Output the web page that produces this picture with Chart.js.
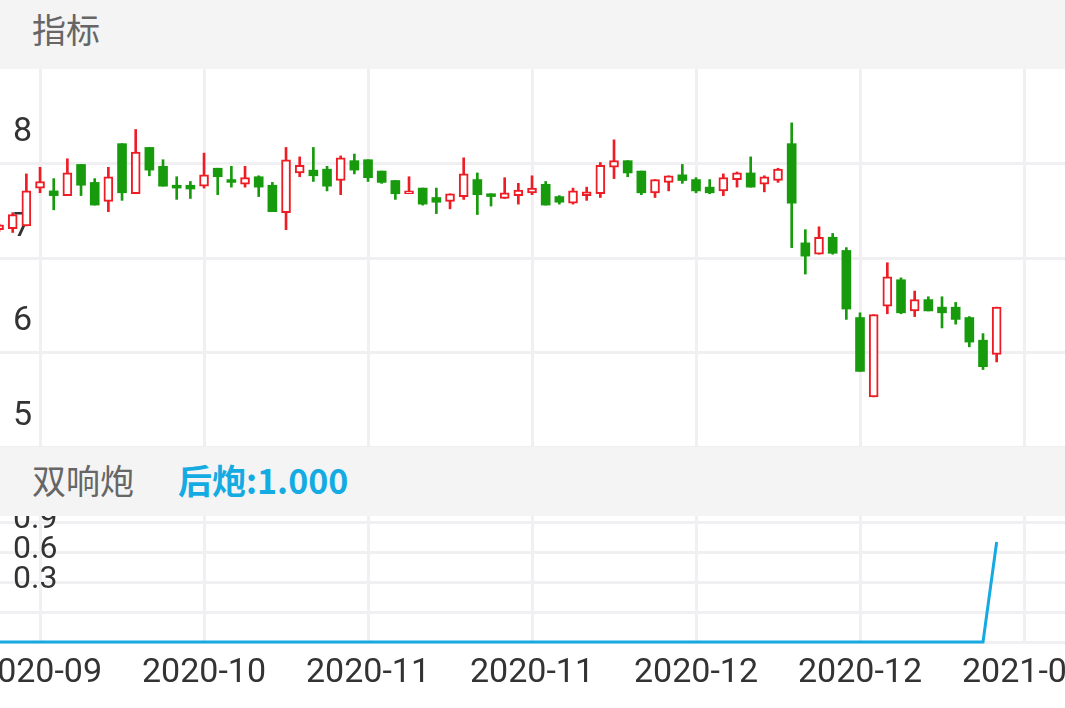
<!DOCTYPE html>
<html>
<head>
<meta charset="utf-8">
<script src="https://cdn.jsdelivr.net/npm/chart.js@4.4.1/dist/chart.umd.min.js"></script>
<style>
html, body { margin: 0; padding: 0; background: #fff; width: 1065px; height: 708px; overflow: hidden;
  font-family: Roboto, "Noto Sans CJK SC", sans-serif; }
.band { position: absolute; left: 0; width: 1065px; height: 69px; background: #f4f4f4; z-index: 2;
  color: #666; font-size: 34px; font-family: "Noto Sans CJK SC", Roboto, sans-serif; }
.band span { position: absolute; line-height: 69px; top: 0; }
#head { top: 0; }
#head span { top: -6px; }
#mid { top: 447px; }
#mid span { top: -2px; }
#sigText { left: 178px; color: #14abe3; font-weight: bold; }
#kbox { position: absolute; left: 0; top: 69px; width: 1065px; height: 378px; }
#sbox { position: absolute; left: 0; top: 516px; width: 1065px; height: 192px; }
</style>
</head>
<body>
<div class="band" id="head"><span style="left:32px">指标</span></div>
<div class="band" id="mid"><span style="left:32px">双响炮</span><span id="sigText">后炮:1.000</span></div>
<div id="kbox"><canvas id="kline"></canvas></div>
<div id="sbox"><canvas id="signal"></canvas></div>
<script>
// daily candles, index 0 is the first (partly hidden) bar on the left
const opens = [7.30, 7.31, 7.34, 7.74, 7.71, 7.66, 7.99, 7.80, 7.60, 8.21,
  7.68, 8.17, 7.97, 7.77, 7.77, 7.76, 7.95, 7.83, 7.78, 7.86,
  7.77, 7.48, 7.90, 7.93, 7.94, 7.82, 8.03, 8.04, 7.92, 7.82,
  7.68, 7.74, 7.64, 7.60, 7.65, 7.83, 7.68, 7.63, 7.66, 7.69,
  7.78, 7.65, 7.58, 7.66, 7.68, 7.96, 8.03, 7.92, 7.69, 7.80,
  7.88, 7.83, 7.75, 7.71, 7.83, 7.90, 7.78, 7.82, 8.21, 7.16,
  7.04, 7.22, 7.08, 6.37, 5.53, 6.49, 6.77, 6.44, 6.56, 6.48,
  6.48, 6.37, 6.13, 5.98];
const highs = [7.36, 7.48, 7.89, 7.96, 7.84, 8.05, 7.99, 7.84, 7.96, 8.21,
  8.36, 8.17, 8.04, 7.86, 7.81, 8.11, 7.95, 7.97, 7.97, 7.87,
  7.80, 8.17, 8.07, 8.17, 7.97, 8.08, 8.10, 8.04, 7.92, 7.82,
  7.86, 7.74, 7.74, 7.68, 8.06, 7.90, 7.68, 7.85, 7.79, 7.87,
  7.81, 7.66, 7.74, 7.75, 8.01, 8.25, 8.03, 7.92, 7.83, 7.87,
  7.99, 7.85, 7.83, 7.89, 7.91, 8.07, 7.87, 7.95, 8.43, 7.30,
  7.33, 7.26, 7.11, 6.42, 6.40, 6.95, 6.79, 6.65, 6.59, 6.59,
  6.53, 6.38, 6.20, 6.48];
const lows = [7.28, 7.27, 7.34, 7.69, 7.51, 7.66, 7.66, 7.56, 7.49, 7.61,
  7.68, 7.87, 7.76, 7.62, 7.63, 7.74, 7.67, 7.75, 7.75, 7.65,
  7.49, 7.30, 7.86, 7.81, 7.71, 7.67, 7.89, 7.81, 7.79, 7.62,
  7.68, 7.56, 7.47, 7.52, 7.62, 7.46, 7.55, 7.63, 7.57, 7.67,
  7.56, 7.57, 7.57, 7.61, 7.64, 7.84, 7.86, 7.67, 7.64, 7.71,
  7.79, 7.69, 7.68, 7.66, 7.75, 7.75, 7.70, 7.80, 7.11, 6.83,
  7.04, 7.04, 6.35, 5.80, 5.53, 6.41, 6.41, 6.38, 6.44, 6.26,
  6.30, 6.06, 5.82, 5.90];
const closes = [7.35, 7.46, 7.71, 7.81, 7.66, 7.90, 7.77, 7.56, 7.86, 7.69,
  8.12, 7.93, 7.76, 7.74, 7.73, 7.88, 7.86, 7.80, 7.85, 7.75,
  7.49, 8.04, 7.98, 7.87, 7.76, 8.06, 7.93, 7.85, 7.80, 7.68,
  7.71, 7.57, 7.59, 7.68, 7.89, 7.67, 7.65, 7.69, 7.72, 7.74,
  7.56, 7.59, 7.71, 7.70, 7.98, 8.03, 7.90, 7.69, 7.83, 7.87,
  7.82, 7.71, 7.69, 7.85, 7.90, 7.75, 7.86, 7.94, 7.58, 7.02,
  7.22, 7.05, 6.46, 5.80, 6.40, 6.80, 6.42, 6.56, 6.44, 6.42,
  6.35, 6.11, 5.85, 6.48];
// 双响炮 后炮 signal
const signal = [0, 0, 0, 0, 0, 0, 0, 0, 0, 0,
  0, 0, 0, 0, 0, 0, 0, 0, 0, 0,
  0, 0, 0, 0, 0, 0, 0, 0, 0, 0,
  0, 0, 0, 0, 0, 0, 0, 0, 0, 0,
  0, 0, 0, 0, 0, 0, 0, 0, 0, 0,
  0, 0, 0, 0, 0, 0, 0, 0, 0, 0,
  0, 0, 0, 0, 0, 0, 0, 0, 0, 0,
  0, 0, 0, 1];
const xTickIdx = [3, 15, 27, 39, 51, 63, 75];
const xTickLabels = ['2020-09', '2020-10', '2020-11', '2020-11', '2020-12', '2020-12', '2021-01'];
const priceTicks = [5, 6, 7, 8, 9];
const signalTicks = [0, 0.3, 0.6, 0.9, 1.2];
const signalTickLabels = ['', '0.3', '0.6', '0.9', '1.2'];

const RED = '#ee1c25', GREEN = '#179b0d', BLUE = '#16a9e2', GRID = '#f0f0f2';
const FONT = 'Roboto, "Noto Sans CJK SC", sans-serif';
const xMin = 0.07, xMax = 78.0;
Chart.defaults.font.family = FONT;

const up = closes.map((c, i) => c >= opens[i]);
const bodies = opens.map((o, i) => ({ x: i, y: [o, closes[i]] }));
const wicks = lows.map((l, i) => ({ x: i, y: [l, highs[i]] }));

const xScale = (showLabels) => ({
  type: 'linear', min: xMin, max: xMax, offset: false,
  afterBuildTicks: s => { s.ticks = xTickIdx.map(v => ({ value: v })); },
  ticks: {
    display: showLabels, autoSkip: false, maxRotation: 0, padding: 11,
    color: '#333', font: { size: 34 },
    callback: v => xTickLabels[xTickIdx.indexOf(v)]
  },
  grid: { color: GRID, lineWidth: 3, drawTicks: false, offset: false },
  border: { display: false },
  afterFit: s => { s.height = showLabels ? 66 : 0; s.paddingLeft = 0; s.paddingRight = 0; }
});

const common = {
  responsive: true, maintainAspectRatio: false, animation: false,
  layout: { padding: 0, autoPadding: false },
  plugins: { legend: { display: false }, tooltip: { enabled: false } }
};

new Chart(document.getElementById('kline'), {
  type: 'bar',
  data: {
    datasets: [
      { data: wicks, backgroundColor: up.map(u => u ? RED : GREEN), borderWidth: 0,
        barThickness: 2, grouped: false, order: 2 },
      { data: bodies, backgroundColor: up.map(u => u ? '#fff' : GREEN),
        borderColor: up.map(u => u ? RED : GREEN), borderWidth: up.map(u => u ? 2 : 0),
        borderSkipped: false, barThickness: 9, minBarLength: 2, grouped: false, order: 1 }
    ]
  },
  options: {
    ...common,
    scales: {
      x: xScale(false),
      y: {
        min: 5, max: 9,
        afterBuildTicks: s => { s.ticks = priceTicks.map(v => ({ value: v })); },
        ticks: { mirror: true, padding: 13, labelOffset: -31, autoSkip: false,
          color: '#333', font: { size: 34 } },
        grid: { color: c => (c.tick && c.tick.value === 9) ? 'rgba(0,0,0,0)' : GRID,
          lineWidth: 3, drawTicks: false },
        border: { display: false },
        afterFit: s => { s.width = 0; s.paddingTop = 0; s.paddingBottom = 0; }
      }
    }
  }
});

new Chart(document.getElementById('signal'), {
  type: 'line',
  data: {
    datasets: [{
      data: signal.map((v, i) => ({ x: i, y: v })),
      borderColor: BLUE, borderWidth: 3, pointRadius: 0, tension: 0, fill: false, clip: false
    }]
  },
  options: {
    ...common,
    scales: {
      x: xScale(true),
      y: {
        min: 0, max: 1.26,
        afterBuildTicks: s => { s.ticks = signalTicks.map(v => ({ value: v })); },
        ticks: { mirror: true, padding: 13, labelOffset: -32, autoSkip: false,
          color: '#333', font: { size: 32 },
          callback: v => signalTickLabels[signalTicks.indexOf(v)] },
        grid: { color: GRID, lineWidth: 3, drawTicks: false },
        border: { display: false },
        afterFit: s => { s.width = 0; s.paddingTop = 0; s.paddingBottom = 0; }
      }
    }
  }
});
</script>
</body>
</html>
